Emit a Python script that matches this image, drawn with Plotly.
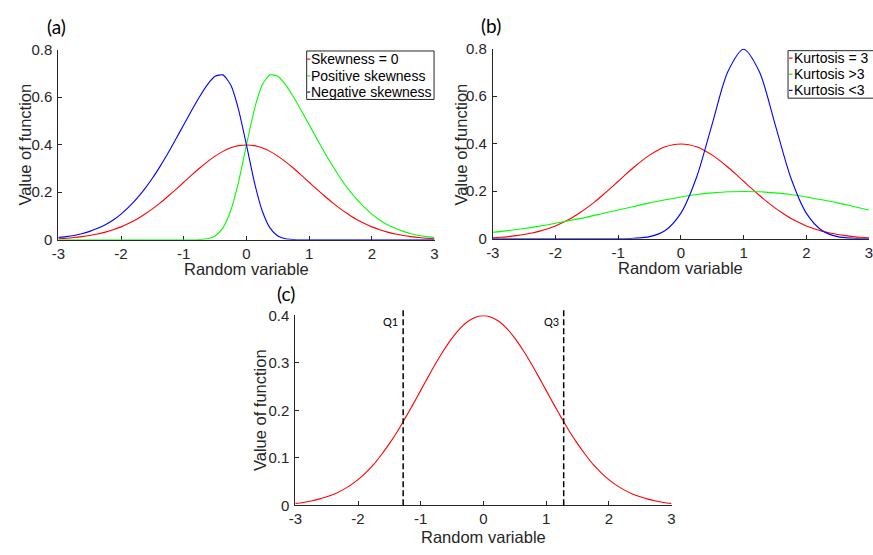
import plotly.graph_objects as go

W, H = 873, 555

# ---------------- data ----------------
x_fine = [-3.0, -2.875, -2.75, -2.625, -2.5, -2.375, -2.25, -2.125, -2.0,
          -1.875, -1.75, -1.625, -1.5, -1.375, -1.25, -1.125, -1.0,
          -0.875, -0.75, -0.625, -0.5, -0.375, -0.25, -0.125, 0.0,
          0.125, 0.25, 0.375, 0.5, 0.625, 0.75, 0.875, 1.0,
          1.125, 1.25, 1.375, 1.5, 1.625, 1.75, 1.875, 2.0,
          2.125, 2.25, 2.375, 2.5, 2.625, 2.75, 2.875, 3.0]

x_coarse = [-3.0, -2.75, -2.5, -2.25, -2.0, -1.75, -1.5, -1.25, -1.0,
            -0.75, -0.5, -0.25, 0.0, 0.25, 0.5, 0.75, 1.0,
            1.25, 1.5, 1.75, 2.0, 2.25, 2.5, 2.75, 3.0]

# standard normal curve (red in a, b and c)
normal_pdf = [0.004, 0.006, 0.009, 0.013, 0.018, 0.024, 0.032, 0.042, 0.054,
              0.069, 0.086, 0.107, 0.130, 0.155, 0.183, 0.212, 0.242,
              0.272, 0.301, 0.328, 0.352, 0.372, 0.387, 0.396, 0.399,
              0.396, 0.387, 0.372, 0.352, 0.328, 0.301, 0.272, 0.242,
              0.212, 0.183, 0.155, 0.130, 0.107, 0.086, 0.069, 0.054,
              0.042, 0.032, 0.024, 0.018, 0.013, 0.009, 0.006, 0.004]

# (a) positive skewness (green)
positive_skew = [0.0, 0.0, 0.0, 0.0, 0.0, 0.0, 0.0, 0.0, 0.0,
                 0.0, 0.0, 0.0, 0.0, 0.0, 0.0, 0.0, 0.0,
                 0.000, 0.001, 0.004, 0.016, 0.050, 0.123, 0.244, 0.399,
                 0.547, 0.651, 0.694, 0.688, 0.652, 0.601, 0.544, 0.484,
                 0.424, 0.365, 0.310, 0.259, 0.213, 0.173, 0.138, 0.108,
                 0.083, 0.063, 0.048, 0.035, 0.025, 0.018, 0.013, 0.009]

# (a) negative skewness (blue)
negative_skew = [0.009, 0.013, 0.018, 0.025, 0.035, 0.048, 0.063, 0.083, 0.108,
                 0.138, 0.173, 0.213, 0.259, 0.310, 0.365, 0.424, 0.484,
                 0.544, 0.601, 0.652, 0.688, 0.694, 0.651, 0.547, 0.399,
                 0.244, 0.123, 0.050, 0.016, 0.004, 0.001, 0.000, 0.0,
                 0.0, 0.0, 0.0, 0.0, 0.0, 0.0, 0.0, 0.0,
                 0.0, 0.0, 0.0, 0.0, 0.0, 0.0, 0.0, 0.0]

# (b) kurtosis > 3 (green, wide)
kurtosis_high = [0.027, 0.034, 0.043, 0.053, 0.065, 0.078, 0.091, 0.106, 0.121,
                 0.136, 0.151, 0.164, 0.176, 0.186, 0.193, 0.198, 0.199,
                 0.198, 0.193, 0.186, 0.176, 0.164, 0.151, 0.136, 0.121]

# (b) kurtosis < 3 (blue, narrow)
kurtosis_low = [0.0, 0.0, 0.0, 0.0, 0.0, 0.0, 0.0, 0.0, 0.0,
                0.002, 0.009, 0.035, 0.108, 0.259, 0.484, 0.704, 0.798,
                0.704, 0.484, 0.259, 0.108, 0.035, 0.009, 0.002, 0.0]

quartile_x = [-1.28, 1.28]
quartile_labels = ["Q1", "Q3"]

x_ticks = [-3, -2, -1, 0, 1, 2, 3]
x_tick_text = ["-3", "-2", "-1", "0", "1", "2", "3"]
y_ticks_ab = [0, 0.2, 0.4, 0.6, 0.8]
y_tick_text_ab = ["0", "0.2", "0.4", "0.6", "0.8"]
y_ticks_c = [0, 0.1, 0.2, 0.3, 0.4]
y_tick_text_c = ["0", "0.1", "0.2", "0.3", "0.4"]

legend_a = ["Skewness = 0", "Positive skewness", "Negative skewness"]
legend_b = ["Kurtosis = 3", "Kurtosis >3", "Kurtosis <3"]
colors = ["#ff0000", "#00ff00", "#0000ff"]

panel_labels = ["(a)", "(b)", "(c)"]
x_title = "Random variable"
y_title = "Value of function"

# ---------------- helpers ----------------
def px(v):
    return v / W


def py(v):
    return 1 - v / H


AX = "#262626"
FONT = "Liberation Sans, Arial, Helvetica, sans-serif"
LBL_FONT = "Lato, Liberation Sans, sans-serif"

fig = go.Figure()

LW = 1.1


def curve(x, y, name, color, xa, ya, smooth=0.8):
    return go.Scatter(x=x, y=y, mode="lines", name=name,
                      line=dict(color=color, width=LW, shape="spline", smoothing=smooth),
                      xaxis=xa, yaxis=ya, showlegend=False, cliponaxis=False)


# (a)
fig.add_trace(curve(x_fine, normal_pdf, legend_a[0], colors[0], "x", "y"))
fig.add_trace(curve(x_fine, positive_skew, legend_a[1], colors[1], "x", "y", 0.6))
fig.add_trace(curve(x_fine, negative_skew, legend_a[2], colors[2], "x", "y", 0.6))
# (b)
fig.add_trace(curve(x_fine, normal_pdf, legend_b[0], colors[0], "x2", "y2"))
fig.add_trace(curve(x_coarse, kurtosis_high, legend_b[1], colors[1], "x2", "y2"))
fig.add_trace(curve(x_coarse, kurtosis_low, legend_b[2], colors[2], "x2", "y2"))
# (c)
fig.add_trace(curve(x_fine, normal_pdf, "Normal", colors[0], "x3", "y3"))


def xaxis_cfg(dom, anchor):
    return dict(domain=dom, anchor=anchor, range=[-3, 3], tickvals=x_ticks,
                ticktext=x_tick_text, showline=True, linecolor=AX, linewidth=1,
                ticks="inside", ticklen=4, tickwidth=1, tickcolor=AX,
                showgrid=False, zeroline=False, layer="below traces",
                ticklabeloverflow="allow",
                tickfont=dict(family=FONT, size=15, color=AX), fixedrange=True)


def yaxis_cfg(dom, anchor, rng, tv, tt):
    return dict(domain=dom, anchor=anchor, range=rng, tickvals=tv, ticktext=tt,
                showline=True, linecolor=AX, linewidth=1, ticks="inside",
                ticklen=4, tickwidth=1, tickcolor=AX, showgrid=False,
                zeroline=False, layer="below traces", ticklabelstandoff=2,
                tickfont=dict(family=FONT, size=15, color=AX), fixedrange=True)


fig.update_layout(
    width=W, height=H, margin=dict(l=0, r=0, t=0, b=0),
    paper_bgcolor="white", plot_bgcolor="white", showlegend=False,
    xaxis=xaxis_cfg([px(52), px(433)], "y"),
    yaxis=yaxis_cfg([py(238), py(42)], "x", [0, 0.8], y_ticks_ab, y_tick_text_ab),
    xaxis2=xaxis_cfg([px(492), px(873)], "y2"),
    yaxis2=yaxis_cfg([py(237), py(41)], "x2", [0, 0.8], y_ticks_ab, y_tick_text_ab),
    xaxis3=xaxis_cfg([px(292), px(673)], "y3"),
    yaxis3=yaxis_cfg([py(512), py(316)], "x3", [0, 0.4], y_ticks_c, y_tick_text_c),
)

annotations = []
shapes = []

# axis titles
for cx, cy in [(242.5, 268), (682.5, 267), (482.5, 545)]:
    annotations.append(dict(text=x_title, xref="paper", yref="paper", x=px(cx), y=py(cy),
                            xanchor="center", yanchor="middle", showarrow=False,
                            font=dict(family=FONT, size=16.5, color=AX)))
for cx, cy in [(18, 140), (460, 139.5), (257, 414)]:
    annotations.append(dict(text=y_title, xref="paper", yref="paper", x=px(cx), y=py(cy),
                            xanchor="center", yanchor="middle", showarrow=False, textangle=-90,
                            font=dict(family=FONT, size=16.5, color=AX)))

# panel labels
for lbl, (cx, cy) in zip(panel_labels, [(50, 18), (490, 17), (282.5, 293)]):
    annotations.append(dict(text=lbl, xref="paper", yref="paper", x=px(cx), y=py(cy),
                            xanchor="center", yanchor="middle", showarrow=False,
                            font=dict(family=LBL_FONT, size=19, color="black")))


# legends (MATLAB-style boxes with short line tokens)
def add_legend(names, box, rows, tok, text_x):
    x0, y0, x1, y1 = box
    shapes.append(dict(type="rect", xref="paper", yref="paper",
                       x0=px(x0), x1=px(x1), y0=py(y1), y1=py(y0),
                       line=dict(color=AX, width=1), fillcolor="white", layer="above"))
    for name, col, ry in zip(names, colors, rows):
        shapes.append(dict(type="line", xref="paper", yref="paper",
                           x0=px(tok[0]), x1=px(tok[1]), y0=py(ry), y1=py(ry),
                           line=dict(color=col, width=1.2), layer="above"))
        annotations.append(dict(text=name, xref="paper", yref="paper", x=px(text_x), y=py(ry),
                                xanchor="left", yanchor="middle", showarrow=False,
                                font=dict(family=FONT, size=14, color="black")))


add_legend(legend_a, (303.5, 43.3, 432.5, 93.3), [51.7, 69, 85.7], (304, 307), 306)
add_legend(legend_b, (791, 43, 890, 92), [50.7, 67.3, 84], (792, 795.5), 795)

# quartile dashed lines in (c)
for q, lbl in zip(quartile_x, quartile_labels):
    shapes.append(dict(type="line", xref="x3", yref="y3 domain", x0=q, x1=q, y0=0, y1=1.04,
                       line=dict(color="black", width=1.5, dash="6px,3px"), layer="above"))
    annotations.append(dict(text=lbl, xref="x3", yref="y3 domain", x=q, y=0.969,
                            xanchor="right", yanchor="middle", xshift=-3, showarrow=False,
                            font=dict(family=LBL_FONT, size=11, color="black")))

fig.update_layout(annotations=annotations, shapes=shapes)

fig.write_html("out.html")
